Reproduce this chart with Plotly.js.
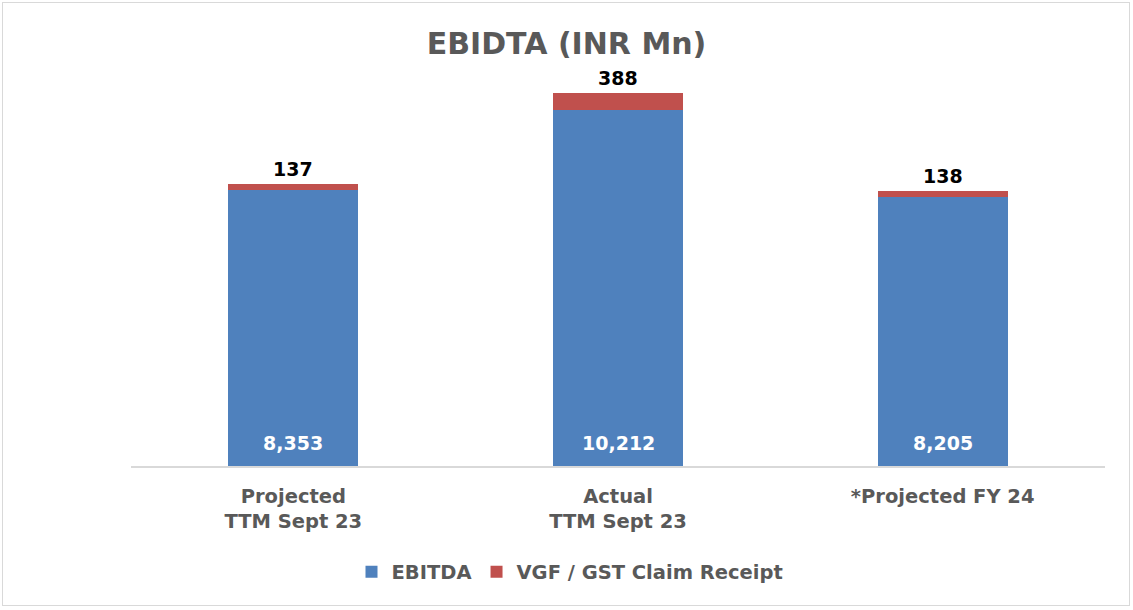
<!DOCTYPE html>
<html>
<head>
<meta charset="utf-8">
<script src="https://cdn.plot.ly/plotly-3.0.1.min.js"></script>
<style>
html,body{margin:0;padding:0;background:#fff;}
#chart{position:absolute;left:0;top:0;width:1133px;height:610px;}
#frame{position:absolute;left:2px;top:2px;width:1126px;height:602px;border:1.5px solid #d9d9d9;pointer-events:none;}
</style>
</head>
<body>
<div id="chart"></div>
<div id="frame"></div>
<script>
const categories = ["Projected<br>TTM Sept 23", "Actual<br>TTM Sept 23", "*Projected FY 24"];
const ebitda = [8353, 10212, 8205];
const vgf = [137, 388, 138];
const ebitdaLabels = ["8,353", "10,212", "8,205"];
const vgfLabels = ["137", "388", "138"];

const FONT = "DejaVu Sans, Open Sans, sans-serif";
const BLUE = "#4f81bd", RED = "#c0504d", GREY = "#595959";

const traces = [
  {type: "bar", name: "EBITDA", x: categories, y: ebitda, marker: {color: BLUE}, hoverinfo: "none"},
  {type: "bar", name: "VGF / GST Claim Receipt", x: categories, y: vgf, marker: {color: RED}, hoverinfo: "none"}
];

const annotations = [];
categories.forEach((c, i) => {
  annotations.push({x: c, y: 2000, xref: "x", yref: "y", text: ebitdaLabels[i], showarrow: false,
    yanchor: "bottom", yshift: 10, font: {family: FONT, size: 19, color: "#ffffff", weight: "bold"}});
  annotations.push({x: c, y: ebitda[i] + vgf[i], xref: "x", yref: "y", text: vgfLabels[i], showarrow: false,
    yanchor: "bottom", yshift: 2, font: {family: FONT, size: 19, color: "#000000", weight: "bold"}});
});

const layout = {
  width: 1133, height: 610,
  margin: {l: 131, r: 28, t: 32, b: 144, autoexpand: false},
  paper_bgcolor: "#ffffff", plot_bgcolor: "#ffffff",
  barmode: "stack", bargap: 0.6,
  title: {text: "EBIDTA (INR Mn)", x: 0.5, xref: "container", xanchor: "center", y: 1 - 43/610, yref: "container", yanchor: "middle",
    font: {family: FONT, size: 30, color: GREY, weight: "bold"}},
  xaxis: {showline: true, linecolor: "#d9d9d9", linewidth: 1.5, ticks: "", showgrid: false, zeroline: false, tickangle: 0,
    tickfont: {family: FONT, size: 19.5, color: GREY, weight: "bold"}, ticklabelstandoff: 12, fixedrange: true},
  yaxis: {range: [2000, 12000], visible: false, showgrid: false, zeroline: false, fixedrange: true},
  showlegend: true,
  legend: {orientation: "h", x: (570 - 131) / 974, xanchor: "center", y: (466 - 572) / 434, yanchor: "middle",
    font: {family: FONT, size: 19.5, color: GREY, weight: "bold"}, itemwidth: 30, traceorder: "normal"},
  annotations: annotations
};

Plotly.newPlot("chart", traces, layout, {displayModeBar: false, staticPlot: true});
</script>
</body>
</html>
